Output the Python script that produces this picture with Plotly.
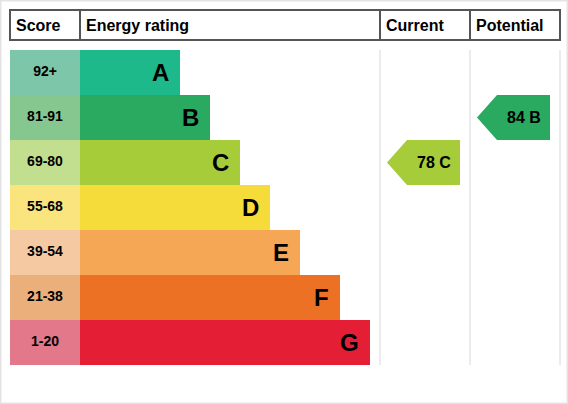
"""
EPC style energy rating chart: score bands, rating bars and the
current / potential arrows.
"""

import plotly.graph_objects as go

# ── Data ────────────────────────────────────────────────────────────────────
bands = ["A", "B", "C", "D", "E", "F", "G"]
score_ranges = ["92+", "81-91", "69-80", "55-68", "39-54", "21-38", "1-20"]
band_min_scores = [92, 81, 69, 55, 39, 21, 1]
bar_lengths = [100, 130, 160, 190, 220, 260, 290]
band_colours = ["#1db98a", "#2aa961", "#a6cc39", "#f6dc3a",
                "#f5a755", "#ec7125", "#e31e35"]
score_colours = ["#7ec6a9", "#86c78f", "#c1df8e", "#f9e47d",
                 "#f5caa3", "#ebaf7c", "#e2788a"]

current_score = 78
potential_score = 84

headers = ["Score", "Energy rating", "Current", "Potential"]

# ── Layout constants (pixels) ───────────────────────────────────────────────
W, H = 568, 404
ROW_TOP = 50
ROW_H = 45
HEAD_TOP, HEAD_BOTTOM = 10, 40
COL_EDGES = [10, 80, 380, 470, 560]   # score | rating | current | potential
FONT = "Liberation Sans, Arial, sans-serif"


def px_to_row(py):
    """Map a vertical pixel position onto the row-index axis."""
    return (py - ROW_TOP - ROW_H / 2) / ROW_H


def band_of(score):
    for i, lo in enumerate(band_min_scores):
        if score >= lo:
            return i
    return len(bands) - 1


rows = list(range(len(bands)))


def build_figure() -> go.Figure:
    fig = go.Figure()

    # ── Score column cells ──────────────────────────────────────────────────
    fig.add_trace(go.Bar(
        y=rows, x=[COL_EDGES[1] - COL_EDGES[0]] * len(rows), base=COL_EDGES[0],
        orientation="h", width=1, marker=dict(color=score_colours, line_width=0),
        hoverinfo="skip",
    ))
    # ── Rating bars ─────────────────────────────────────────────────────────
    fig.add_trace(go.Bar(
        y=rows, x=bar_lengths, base=COL_EDGES[1],
        orientation="h", width=1, marker=dict(color=band_colours, line_width=0),
        hoverinfo="skip",
    ))
    # score range labels
    fig.add_trace(go.Scatter(
        x=[(COL_EDGES[0] + COL_EDGES[1]) / 2] * len(rows), y=rows,
        mode="text", text=score_ranges, textposition="middle center",
        textfont=dict(family=FONT, size=14, color="black", weight="bold"),
        hoverinfo="skip",
    ))
    # band letters at the right end of each bar
    for i, letter in enumerate(bands):
        fig.add_annotation(
            x=COL_EDGES[1] + bar_lengths[i], y=i, text=letter, showarrow=False,
            xanchor="right", yanchor="middle", xshift=-9,
            font=dict(family=FONT, size=24, color="black", weight="bold"),
        )

    # ── Current / potential arrows ─────────────────────────────────────────
    for score, (left, right) in [(current_score, COL_EDGES[2:4]),
                                 (potential_score, COL_EDGES[3:5])]:
        b = band_of(score)
        tip, body, end = left + 7, left + 27, right - 10
        fig.add_trace(go.Scatter(
            x=[tip, body, end, end, body, tip],
            y=[b, b - 0.5, b - 0.5, b + 0.5, b + 0.5, b],
            mode="lines", fill="toself", fillcolor=band_colours[b],
            line=dict(width=0), hoverinfo="skip",
        ))
        fig.add_annotation(
            x=(body + end) / 2, y=b, text=f"{score} {bands[b]}", showarrow=False,
            xanchor="center", yanchor="middle",
            font=dict(family=FONT, size=16, color="black", weight="bold"),
        )

    # ── Column guide lines ─────────────────────────────────────────────────
    for cx in COL_EDGES[2:]:
        fig.add_shape(type="line", x0=cx, x1=cx, y0=-0.5, y1=len(bands) - 0.5,
                      line=dict(color="#ebebeb", width=2), layer="below")

    # ── Header row ──────────────────────────────────────────────────────────
    y0, y1 = px_to_row(HEAD_TOP), px_to_row(HEAD_BOTTOM)
    fig.add_shape(type="rect", x0=COL_EDGES[0], x1=COL_EDGES[-1], y0=y0, y1=y1,
                  line=dict(color="#555555", width=2))
    for cx in COL_EDGES[1:-1]:
        fig.add_shape(type="line", x0=cx, x1=cx, y0=y0, y1=y1,
                      line=dict(color="#555555", width=2))
    for cx, label in zip(COL_EDGES[:-1], headers):
        fig.add_annotation(
            x=cx, y=(y0 + y1) / 2, text=label, showarrow=False,
            xanchor="left", yanchor="middle", xshift=4,
            font=dict(family=FONT, size=16, color="black", weight="bold"),
        )

    # outer frame
    fig.add_shape(type="rect", xref="paper", yref="paper", x0=0, x1=1, y0=0, y1=1,
                  line=dict(color="#e3e3e3", width=3))

    fig.update_layout(
        width=W, height=H,
        margin=dict(l=0, r=0, t=0, b=0),
        paper_bgcolor="white", plot_bgcolor="white",
        barmode="overlay", showlegend=False,
        xaxis=dict(range=[0, W], visible=False, fixedrange=True),
        yaxis=dict(range=[px_to_row(H), px_to_row(0)], visible=False, fixedrange=True),
    )
    return fig


fig = build_figure()
fig.write_html(
    "out.html",
    config={"displayModeBar": False},
    post_script="document.body.style.margin='0';document.body.style.overflow='hidden';",
)
